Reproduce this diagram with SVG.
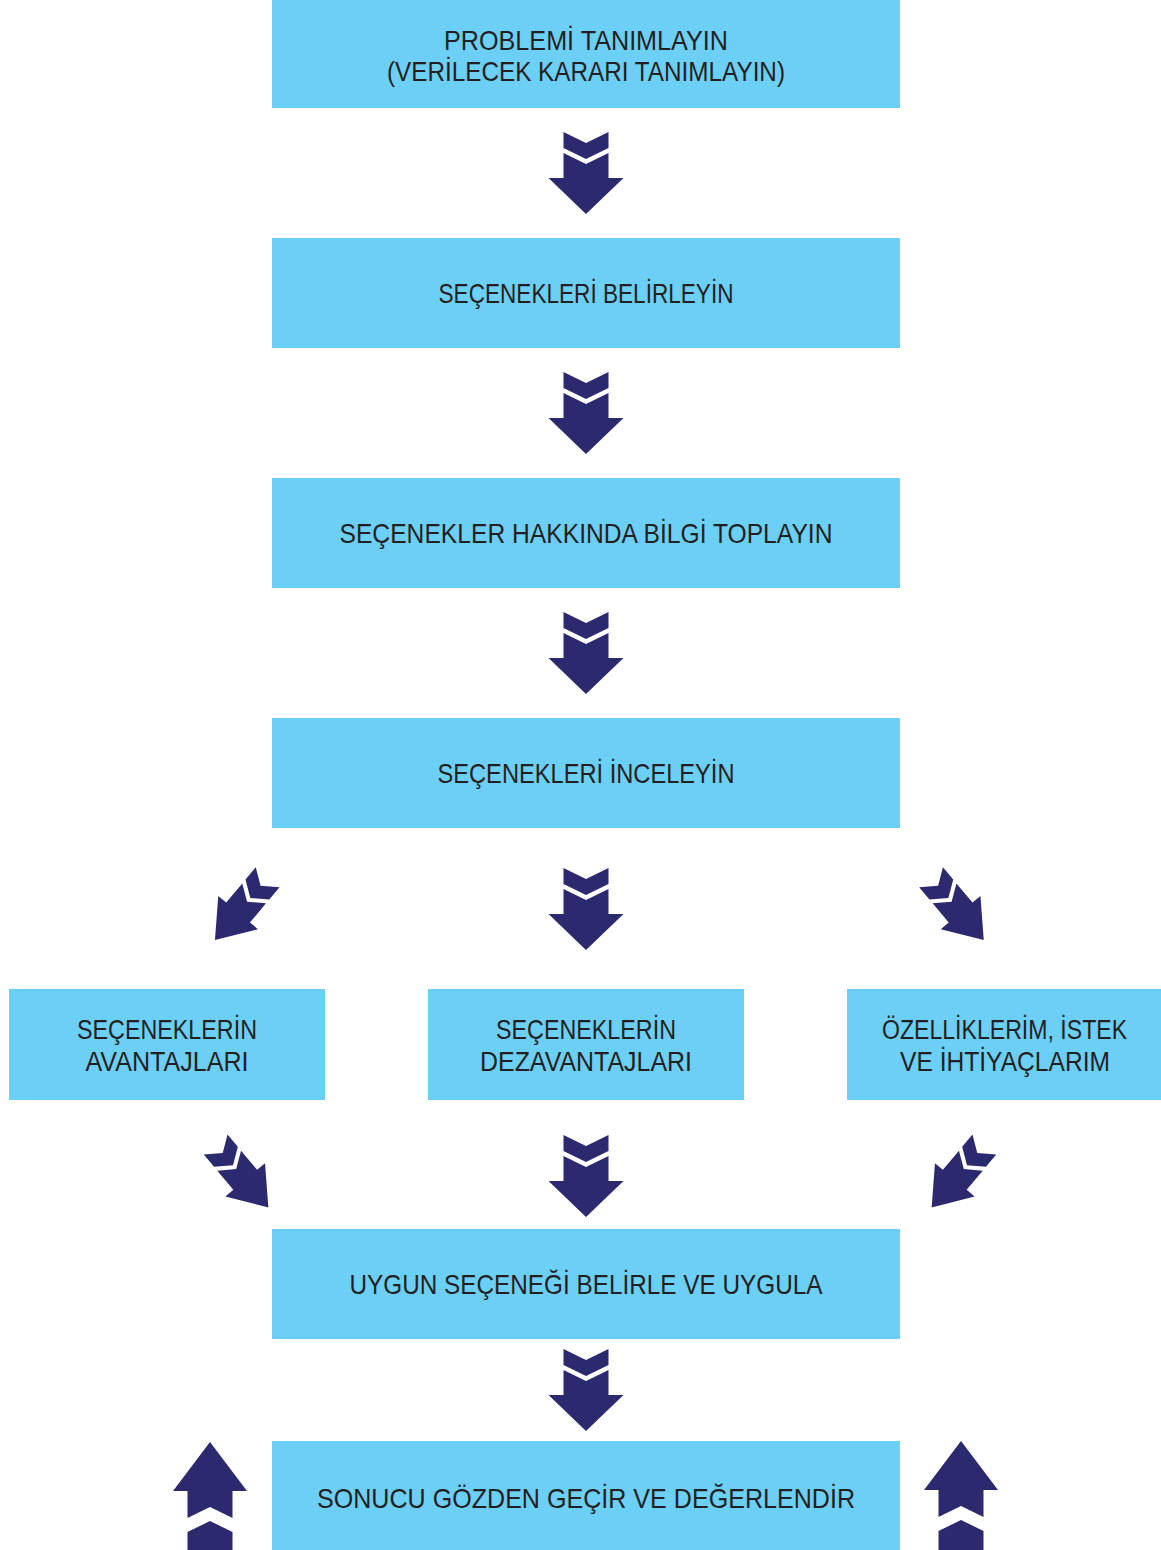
<svg xmlns="http://www.w3.org/2000/svg" xmlns:xlink="http://www.w3.org/1999/xlink" width="1161" height="1550" viewBox="0 0 1161 1550">
<style>
.box{fill:#6ccff6}
.arr{fill:#2b2a6e}
text{font-family:"Liberation Sans",Arial,sans-serif;font-size:28px;fill:#231f20;text-anchor:middle}
</style>
<defs>
<g id="arrow">
<path d="M-22.5,-41 L0,-30 L22.5,-41 L22.5,-25 L0,-14 L-22.5,-25 Z"/>
<path d="M-22.5,-20 L0,-9 L22.5,-20 L22.5,5 L37.5,5 L0,41 L-37.5,5 L-22.5,5 Z"/>
</g>
<g id="uparrow">
<path d="M0,0 L37,49 L22.5,49 L22.5,76 L0,65 L-22.5,76 L-22.5,49 L-37,49 Z"/>
<path d="M0,79 L22.5,90 L22.5,115 L-22.5,115 L-22.5,90 Z"/>
</g>
</defs>
<rect width="1161" height="1550" fill="#ffffff"/>

<g id="node1"><rect class="box" x="272" y="0" width="628" height="108"/>
<text x="586" y="50" textLength="284" lengthAdjust="spacingAndGlyphs">PROBLEMİ TANIMLAYIN</text>
<text x="586" y="81" textLength="398" lengthAdjust="spacingAndGlyphs">(VERİLECEK KARARI TANIMLAYIN)</text></g>

<g id="node2"><rect class="box" x="272" y="238" width="628" height="110"/>
<text x="586" y="303" textLength="295" lengthAdjust="spacingAndGlyphs">SEÇENEKLERİ BELİRLEYİN</text></g>

<g id="node3"><rect class="box" x="272" y="478" width="628" height="110"/>
<text x="586" y="543" textLength="493" lengthAdjust="spacingAndGlyphs">SEÇENEKLER HAKKINDA BİLGİ TOPLAYIN</text></g>

<g id="node4"><rect class="box" x="272" y="718" width="628" height="110"/>
<text x="586" y="783" textLength="297" lengthAdjust="spacingAndGlyphs">SEÇENEKLERİ İNCELEYİN</text></g>

<g id="node5a"><rect class="box" x="9" y="989" width="316" height="111"/>
<text x="167" y="1039" textLength="180" lengthAdjust="spacingAndGlyphs">SEÇENEKLERİN</text>
<text x="167" y="1071" textLength="163" lengthAdjust="spacingAndGlyphs">AVANTAJLARI</text></g>

<g id="node5b"><rect class="box" x="428" y="989" width="316" height="111"/>
<text x="586" y="1039" textLength="180" lengthAdjust="spacingAndGlyphs">SEÇENEKLERİN</text>
<text x="586" y="1071" textLength="212" lengthAdjust="spacingAndGlyphs">DEZAVANTAJLARI</text></g>

<g id="node5c"><rect class="box" x="847" y="989" width="314" height="111"/>
<text transform="translate(1004.5,1039) scale(0.825,1)" x="0" y="0">ÖZELLİKLERİM, İSTEK</text>
<text x="1005" y="1071" textLength="210" lengthAdjust="spacingAndGlyphs">VE İHTİYAÇLARIM</text></g>

<g id="node6"><rect class="box" x="272" y="1229" width="628" height="110"/>
<text x="586" y="1294" textLength="473" lengthAdjust="spacingAndGlyphs">UYGUN SEÇENEĞİ BELİRLE VE UYGULA</text></g>

<g id="node7"><rect class="box" x="272" y="1441" width="628" height="109"/>
<text x="586" y="1508" textLength="538" lengthAdjust="spacingAndGlyphs">SONUCU GÖZDEN GEÇİR VE DEĞERLENDİR</text></g>

<g id="connectors" class="arr">
<use xlink:href="#arrow" transform="translate(586,173)"/>
<use xlink:href="#arrow" transform="translate(586,413)"/>
<use xlink:href="#arrow" transform="translate(586,653)"/>
<use xlink:href="#arrow" transform="translate(586,909)"/>
<use xlink:href="#arrow" transform="translate(241.3,908.7) rotate(40) scale(0.69,1)"/>
<use xlink:href="#arrow" transform="translate(957.4,908.7) rotate(-40) scale(0.69,1)"/>
<use xlink:href="#arrow" transform="translate(586,1176)"/>
<use xlink:href="#arrow" transform="translate(242,1176) rotate(-40) scale(0.69,1)"/>
<use xlink:href="#arrow" transform="translate(958,1176) rotate(40) scale(0.69,1)"/>
<use xlink:href="#arrow" transform="translate(586,1390)"/>
<use xlink:href="#uparrow" transform="translate(210,1442)"/>
<use xlink:href="#uparrow" transform="translate(961,1441)"/>
</g>
</svg>
